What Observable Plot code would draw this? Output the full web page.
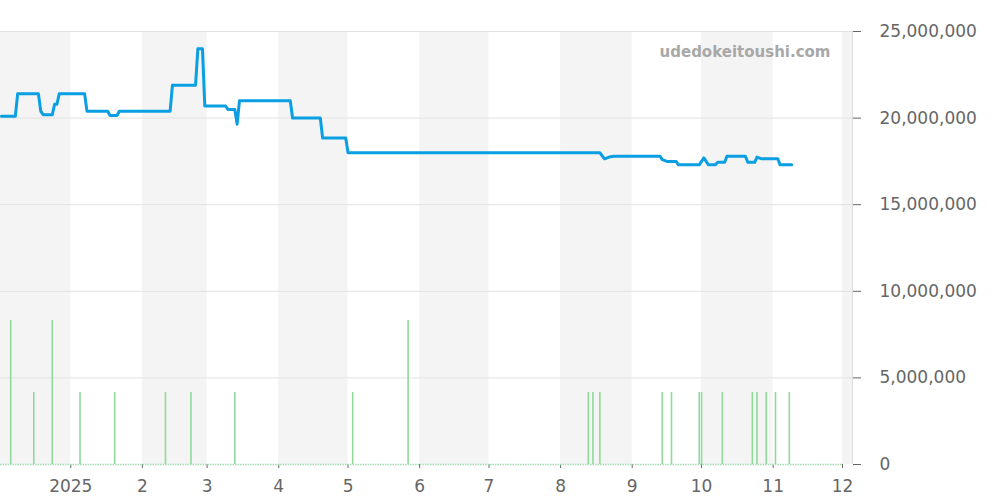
<!DOCTYPE html>
<html>
<head>
<meta charset="utf-8">
<script src="https://cdn.jsdelivr.net/npm/d3@7"></script>
<script src="https://cdn.jsdelivr.net/npm/@observablehq/plot@0.6"></script>
<style>
  html, body { margin: 0; padding: 0; background: #fff; }
  #chart { width: 1000px; height: 500px; }
</style>
</head>
<body>
<div id="chart"></div>
<script>
// ---- data ----
const priceDates = [
  "2024-12-02","2024-12-08","2024-12-09","2024-12-18","2024-12-19","2024-12-20","2024-12-24","2024-12-25","2024-12-26","2024-12-27",
  "2025-01-07","2025-01-08","2025-01-17","2025-01-18","2025-01-21","2025-01-22",
  "2025-02-13","2025-02-14","2025-02-24","2025-02-25","2025-02-27","2025-02-28",
  "2025-03-09","2025-03-10","2025-03-13","2025-03-14","2025-03-15",
  "2025-04-06","2025-04-07","2025-04-19","2025-04-20","2025-04-30","2025-05-01",
  "2025-08-18","2025-08-20","2025-08-22","2025-08-24",
  "2025-09-13","2025-09-14","2025-09-16","2025-09-20","2025-09-21","2025-09-30",
  "2025-10-02","2025-10-04","2025-10-07","2025-10-08","2025-10-11","2025-10-12","2025-10-20","2025-10-21","2025-10-24","2025-10-25","2025-10-27",
  "2025-11-03","2025-11-04","2025-11-09"
];
const priceValues = [
  20100000,20100000,21400000,21400000,20400000,20200000,20200000,20800000,20800000,21400000,
  21400000,20400000,20400000,20150000,20150000,20400000,
  20400000,21900000,21900000,24000000,24000000,20700000,
  20700000,20500000,20500000,19650000,21000000,
  21000000,20000000,20000000,18850000,18850000,18000000,
  18000000,17650000,17750000,17800000,
  17800000,17600000,17500000,17500000,17300000,17300000,
  17700000,17300000,17300000,17450000,17450000,17800000,17800000,17450000,17450000,17750000,17650000,
  17650000,17300000,17300000
];

const volumeDates = [
  "2024-12-06","2024-12-16","2024-12-24","2025-01-05","2025-01-20","2025-02-11","2025-02-22","2025-03-13",
  "2025-05-03","2025-05-27","2025-08-13","2025-08-15","2025-08-18","2025-09-14","2025-09-18",
  "2025-09-30","2025-10-01","2025-10-10","2025-10-23","2025-10-25","2025-10-29","2025-11-02","2025-11-08"
];
const volumeCounts = [2,1,2,1,1,1,1,1, 1,2,1,1,1,1,1, 1,1,1,1,1,1,1,1];
const volumeUnit = 4160000; // one trade drawn on the price axis

const xDomain = ["2024-12-01T14:00:00Z", "2025-12-05T08:00:00Z"];
const xTickDates = ["2025-01-01","2025-02-01","2025-03-01","2025-04-01","2025-05-01","2025-06-01",
                    "2025-07-01","2025-08-01","2025-09-01","2025-10-01","2025-11-01","2025-12-01"];
const xTickLabels = ["2025","2","3","4","5","6","7","8","9","10","11","12"];
const yTicks = [0, 5000000, 10000000, 15000000, 20000000, 25000000];
const bandStarts = ["2024-12-01","2025-02-01","2025-04-01","2025-06-01","2025-08-01","2025-10-01","2025-12-01"];
const bandEnds   = ["2025-01-01","2025-03-01","2025-05-01","2025-07-01","2025-09-01","2025-11-01","2026-01-01"];
const watermark = "udedokeitoushi.com";

// ---- build ----
const P = s => new Date(s.length === 10 ? s + "T00:00:00Z" : s);
const price = priceDates.map((d, i) => ({date: P(d), value: priceValues[i]}));
const volume = volumeDates.map((d, i) => ({date: P(d), count: volumeCounts[i]}));
const bands = bandStarts.map((d, i) => ({x1: P(d), x2: P(bandEnds[i])}));
const tickDates = xTickDates.map(P);
const labelOf = new Map(tickDates.map((d, i) => [+d, xTickLabels[i]]));
const domain = xDomain.map(P);

const chart = Plot.plot({
  width: 1000,
  height: 500,
  marginTop: 31,
  marginBottom: 36,
  marginLeft: 0,
  marginRight: 148,
  style: {fontFamily: "DejaVu Sans, sans-serif", fontSize: "17px", color: "#666", background: "#fff"},
  x: {
    type: "utc",
    domain,
    ticks: tickDates,
    tickFormat: d => labelOf.get(+d) ?? "",
    tickSize: 4,
    tickPadding: 11,
    label: null
  },
  y: {
    domain: [0, 25000000],
    axis: "right",
    ticks: yTicks,
    tickFormat: d3.format(","),
    tickSize: 8,
    tickPadding: 19,
    label: null
  },
  marks: [
    Plot.rect(bands, {x1: "x1", x2: "x2", fill: "#f4f4f4", clip: true}),
    Plot.ruleY(yTicks.filter(d => d > 0), {stroke: "#e2e2e2", strokeWidth: 1}),
    Plot.ruleX([domain[1]], {stroke: "#dddddd"}),
    Plot.ruleY([0], {x1: domain[0], x2: P("2025-12-01"), stroke: "#a6dcae", strokeWidth: 1.5, strokeDasharray: "1.5,1"}),
    Plot.ruleX(volume, {x: "date", y1: 0, y2: d => d.count * volumeUnit, stroke: "#8fd99b", strokeWidth: 1.6}),
    Plot.line(price, {x: "date", y: "value", stroke: "#0a9fe2", strokeWidth: 3, strokeLinejoin: "round", strokeLinecap: "round"}),
    Plot.text([watermark], {frameAnchor: "top-right", dx: -22, dy: 21, lineAnchor: "middle", textAnchor: "end",
      fontWeight: "bold", fontSize: 15, fill: "#a8a8a8"})
  ]
});
document.getElementById("chart").appendChild(chart);
</script>
</body>
</html>
